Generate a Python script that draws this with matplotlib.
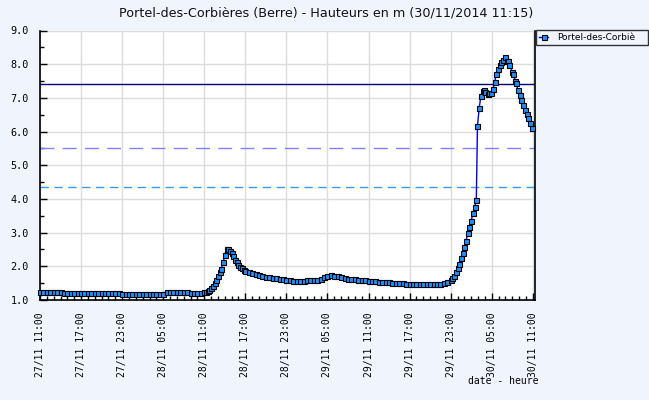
import matplotlib
matplotlib.use("Agg")
import matplotlib.pyplot as plt
import matplotlib.dates as mdates
import pandas as pd

title = "Portel-des-Corbières (Berre) - Hauteurs en m (30/11/2014 11:15)"
series_label = "Portel-des-Corbiè"
xlabel = "date - heure"

times = [
    # 27/11 flat
    "27/11 11:00", "27/11 11:30", "27/11 12:00", "27/11 12:30", "27/11 13:00", "27/11 13:30", "27/11 14:00",
    "27/11 14:30", "27/11 15:00", "27/11 15:30", "27/11 16:00", "27/11 16:30", "27/11 17:00", "27/11 17:30",
    "27/11 18:00", "27/11 18:30", "27/11 19:00", "27/11 19:30", "27/11 20:00", "27/11 20:30", "27/11 21:00",
    "27/11 21:30", "27/11 22:00", "27/11 22:30",
    "27/11 23:00", "27/11 23:30", "28/11 00:00", "28/11 00:30", "28/11 01:00", "28/11 01:30", "28/11 02:00",
    "28/11 02:30", "28/11 03:00", "28/11 03:30", "28/11 04:00", "28/11 04:30", "28/11 05:00",
    "28/11 05:30", "28/11 06:00", "28/11 06:30", "28/11 07:00", "28/11 07:30", "28/11 08:00", "28/11 08:30",
    "28/11 09:00", "28/11 09:30", "28/11 10:00", "28/11 10:30",
    # first rise
    "28/11 11:00", "28/11 11:15", "28/11 11:30", "28/11 11:45", "28/11 12:00", "28/11 12:15", "28/11 12:30",
    "28/11 12:45", "28/11 13:00", "28/11 13:15", "28/11 13:30", "28/11 13:45", "28/11 14:00", "28/11 14:15",
    "28/11 14:30", "28/11 14:45", "28/11 15:00", "28/11 15:15", "28/11 15:30", "28/11 15:45", "28/11 16:00",
    "28/11 16:15", "28/11 16:30", "28/11 16:45", "28/11 17:00",
    # recession
    "28/11 17:30", "28/11 18:00", "28/11 18:30", "28/11 19:00", "28/11 19:30", "28/11 20:00", "28/11 20:30",
    "28/11 21:00", "28/11 21:30", "28/11 22:00", "28/11 22:30", "28/11 23:00", "28/11 23:30", "29/11 00:00",
    "29/11 00:30", "29/11 01:00", "29/11 01:30", "29/11 02:00", "29/11 02:30", "29/11 03:00", "29/11 03:30",
    "29/11 04:00", "29/11 04:30", "29/11 05:00", "29/11 05:30", "29/11 06:00", "29/11 06:30", "29/11 07:00",
    "29/11 07:30", "29/11 08:00", "29/11 08:30", "29/11 09:00", "29/11 09:30", "29/11 10:00", "29/11 10:30",
    "29/11 11:00", "29/11 11:30", "29/11 12:00", "29/11 12:30", "29/11 13:00", "29/11 13:30", "29/11 14:00",
    "29/11 14:30", "29/11 15:00", "29/11 15:30", "29/11 16:00", "29/11 16:30", "29/11 17:00", "29/11 17:30",
    "29/11 18:00", "29/11 18:30", "29/11 19:00", "29/11 19:30", "29/11 20:00", "29/11 20:30", "29/11 21:00",
    "29/11 21:30", "29/11 22:00", "29/11 22:30", "29/11 23:00",
    # flood
    "29/11 23:15", "29/11 23:30", "29/11 23:45", "30/11 00:00", "30/11 00:15", "30/11 00:30", "30/11 00:45",
    "30/11 01:00", "30/11 01:15", "30/11 01:30", "30/11 01:45", "30/11 02:00", "30/11 02:15", "30/11 02:30",
    "30/11 02:45", "30/11 02:55", "30/11 03:10", "30/11 03:25", "30/11 03:40", "30/11 03:55", "30/11 04:05",
    "30/11 04:25", "30/11 04:35", "30/11 04:55", "30/11 05:10", "30/11 05:25", "30/11 05:40", "30/11 05:55",
    "30/11 06:10", "30/11 06:25", "30/11 06:40", "30/11 06:55", "30/11 07:10", "30/11 07:25", "30/11 07:35",
    "30/11 08:00", "30/11 08:10", "30/11 08:25", "30/11 08:35", "30/11 08:50", "30/11 09:05", "30/11 09:20",
    "30/11 09:35", "30/11 09:50", "30/11 10:05", "30/11 10:20", "30/11 10:35", "30/11 10:55",
]

heights = [
    1.24, 1.24, 1.24, 1.24, 1.24, 1.24, 1.24,
    1.21, 1.21, 1.21, 1.21, 1.21, 1.21, 1.21,
    1.21, 1.21, 1.21, 1.21, 1.21, 1.21, 1.21,
    1.21, 1.21, 1.21,
    1.18, 1.18, 1.18, 1.18, 1.18, 1.18, 1.18,
    1.18, 1.18, 1.18, 1.18, 1.18, 1.18,
    1.24, 1.24, 1.24, 1.24, 1.24, 1.24, 1.24,
    1.21, 1.21, 1.21, 1.21,
    1.23, 1.25, 1.28, 1.31, 1.35, 1.41, 1.50,
    1.60, 1.72, 1.83, 1.93, 2.12, 2.34, 2.50,
    2.50, 2.45, 2.40, 2.30, 2.20, 2.12, 2.05,
    1.99, 1.94, 1.90, 1.87,
    1.84, 1.80, 1.77, 1.74, 1.71, 1.69, 1.67,
    1.65, 1.64, 1.62, 1.61, 1.59, 1.58, 1.57,
    1.57, 1.57, 1.57, 1.58, 1.59, 1.59, 1.60,
    1.62, 1.67, 1.72, 1.74, 1.72, 1.70, 1.67,
    1.65, 1.63, 1.62, 1.61, 1.60, 1.59, 1.58,
    1.57, 1.56, 1.55, 1.54, 1.53, 1.52, 1.52,
    1.51, 1.51, 1.50, 1.49, 1.48, 1.47, 1.47,
    1.47, 1.47, 1.47, 1.47, 1.47, 1.47, 1.47,
    1.47, 1.50, 1.54, 1.59,
    1.64, 1.72, 1.83, 1.96, 2.08, 2.24, 2.40,
    2.57, 2.75, 3.00, 3.18, 3.35, 3.57, 3.76,
    3.97, 6.16, 6.69, 7.05, 7.21, 7.23, 7.18,
    7.11, 7.13, 7.13, 7.25, 7.46, 7.70, 7.85,
    7.97, 8.07, 8.12, 8.20, 8.09, 8.09, 7.99,
    7.77, 7.70, 7.51, 7.43, 7.23, 7.08, 6.95,
    6.79, 6.64, 6.52, 6.39, 6.26, 6.12,
]

thresholds = [7.4, 5.5, 4.35]
x_start = "27/11 11:00"
x_end = "30/11 11:15"
y_min, y_max = 1.0, 9.0

def to_dt(s):
    d, h = s.split(" ")
    day, month = d.split("/")
    return pd.to_datetime(f"2014-{month}-{day} {h}")

t = [to_dt(s) for s in times]

BG = "#f0f4fd"
fig = plt.figure(figsize=(6.49, 4.0), dpi=100, facecolor=BG)
ax = fig.add_axes([40 / 649, 1 - 300 / 400, 494.5 / 649, 269.5 / 400])
ax.set_facecolor("white")

ax.axhline(thresholds[0], color="#000080", lw=1.0, zorder=2)
ax.axhline(thresholds[1], color="#8080ff", lw=1.0, ls=(0, (10, 6)), zorder=2)
ax.axhline(thresholds[2], color="#3a9ae6", lw=1.0, ls=(0, (6, 4)), zorder=2)

ax.plot(t, heights, color="#0000ee", lw=1.0, marker="s", markersize=3.6,
        markerfacecolor="#1e90ff", markeredgecolor="black", markeredgewidth=0.8,
        clip_on=False, zorder=3, label=series_label)

ax.set_xlim(to_dt(x_start), to_dt(x_end))
ax.set_ylim(y_min, y_max)

ax.xaxis.set_major_locator(mdates.HourLocator(byhour=[5, 11, 17, 23]))
ax.xaxis.set_minor_locator(mdates.HourLocator(interval=1))
ax.xaxis.set_major_formatter(mdates.DateFormatter("%d/%m %H:%M"))
ax.yaxis.set_major_locator(matplotlib.ticker.MultipleLocator(1.0))
ax.yaxis.set_minor_locator(matplotlib.ticker.MultipleLocator(0.5))
ax.yaxis.set_major_formatter(matplotlib.ticker.FormatStrFormatter("%.1f"))

ax.grid(True, which="major", color="#dcdcdc", lw=1.0, zorder=0)
ax.set_axisbelow(True)

ax.tick_params(axis="both", which="major", direction="in", length=5, width=1, color="black")
ax.tick_params(axis="both", which="minor", direction="in", length=3, width=1, color="black")
ax.tick_params(axis="x", which="major", pad=9)
ax.tick_params(axis="y", which="major", pad=8)
for lab in ax.get_xticklabels():
    lab.set_rotation(90)
    lab.set_fontfamily("DejaVu Sans Mono")
    lab.set_fontsize(7)
    lab.set_va("top")
    lab.set_ha("center")
for lab in ax.get_yticklabels():
    lab.set_fontfamily("DejaVu Sans Mono")
    lab.set_fontsize(7.3)

for side in ["left", "bottom", "right"]:
    ax.spines[side].set_color("black")
    ax.spines[side].set_linewidth(1.2)
ax.spines["top"].set_visible(False)

fig.text(326 / 649, 1 - 13 / 400, title, ha="center", va="center", fontsize=9.2, color="#111111")
fig.text(538 / 649, 1 - 381 / 400, xlabel, ha="right", va="center",
         fontsize=7, fontfamily="DejaVu Sans Mono")

leg = fig.legend(loc="upper left", bbox_to_anchor=(536 / 649, 1 - 30 / 400, 112 / 649, 0.0),
                 mode="expand", frameon=True, fancybox=False, fontsize=6.5,
                 handlelength=1.0, handletextpad=1.0, borderpad=0.35, borderaxespad=0.0,
                 markerscale=1.0)
leg.get_frame().set_edgecolor("black")
leg.get_frame().set_facecolor(BG)
leg.get_frame().set_linewidth(1.0)

fig.savefig("out.png", dpi=100, facecolor=BG)
